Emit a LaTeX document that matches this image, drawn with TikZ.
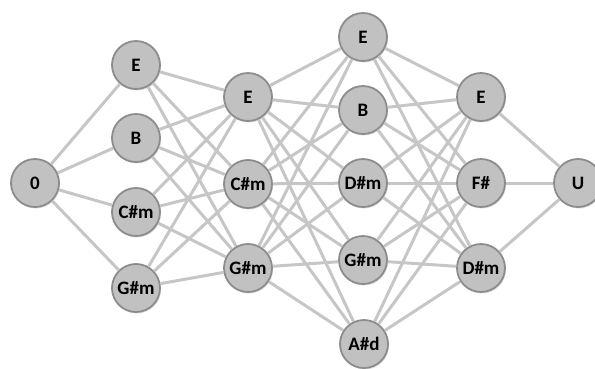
\documentclass[tikz,border=0pt]{standalone}
\usepackage{fontspec}
\setmainfont{Carlito}
\usetikzlibrary{shadows}
\definecolor{edgegray}{RGB}{198,198,198}
\definecolor{nodefill}{RGB}{193,193,193}
\definecolor{noderim}{RGB}{140,140,140}
\tikzset{
  chord/.style={circle, minimum size=48pt, inner sep=0pt, fill=nodefill,
    draw=noderim, line width=1.8pt, font=\fontsize{19}{19}\selectfont\bfseries,
    drop shadow={shadow xshift=1pt, shadow yshift=-1.5pt, opacity=0.25}},
  link/.style={edgegray, line width=3pt}
}
\begin{document}
\begin{tikzpicture}[x=1pt, y=-1pt]
\useasboundingbox (0,0) rectangle (595,368);
% input / output
\node[chord] (s) at (35,183) {0};
\node[chord] (u) at (578,183) {U};
% first column
\node[chord] (a1) at (136,65) {E};
\node[chord] (a2) at (136,138) {B};
\node[chord] (a3) at (136,212) {C\#m};
\node[chord] (a4) at (136,288) {G\#m};
% second column
\node[chord] (b1) at (248,97) {E};
\node[chord] (b2) at (248,184) {C\#m};
\node[chord] (b3) at (248,268) {G\#m};
% third column
\node[chord] (c1) at (363,37) {E};
\node[chord] (c2) at (363,110) {B};
\node[chord] (c3) at (363,183) {D\#m};
\node[chord] (c4) at (363,260) {G\#m};
\node[chord] (c5) at (364,344) {A\#d};
% fourth column
\node[chord] (d1) at (481,97) {E};
\node[chord] (d2) at (481,183) {F\#};
\node[chord] (d3) at (481,268) {D\#m};
% connectors, fully linking neighbouring columns
\foreach \t in {a1,a2,a3,a4} \draw[link] (s) -- (\t);
\foreach \f in {a1,a2,a3,a4} \foreach \t in {b1,b2,b3} \draw[link] (\f) -- (\t);
\foreach \f in {b1,b2,b3} \foreach \t in {c1,c2,c3,c4,c5} \draw[link] (\f) -- (\t);
\foreach \f in {c1,c2,c3,c4,c5} \foreach \t in {d1,d2,d3} \draw[link] (\f) -- (\t);
\foreach \f in {d1,d2,d3} \draw[link] (\f) -- (u);
\end{tikzpicture}
\end{document}
